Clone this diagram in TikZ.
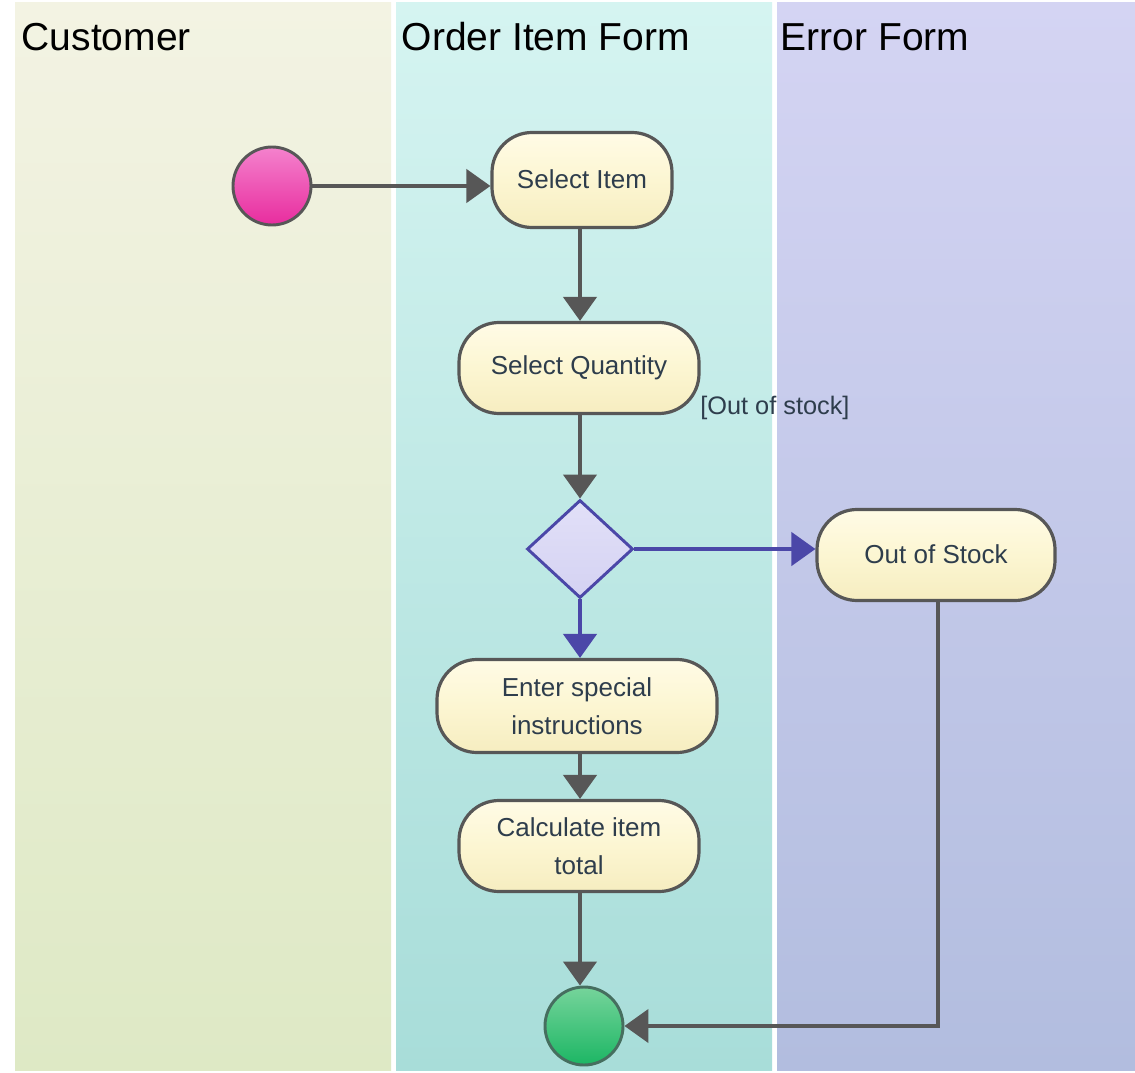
\documentclass[tikz,border=0pt]{standalone}
\usepackage{fontspec}
\setmainfont{Liberation Sans}
\usetikzlibrary{arrows.meta,shapes.geometric}
\definecolor{lineGray}{HTML}{575757}
\definecolor{flowBlue}{HTML}{4B47A8}
\definecolor{txt}{HTML}{2E3D4C}
\definecolor{boxTop}{HTML}{FFFBE6}
\definecolor{boxMid}{HTML}{FCF6D2}
\definecolor{boxBot}{HTML}{F6EDC0}
\begin{document}
\begin{tikzpicture}[x=0.75pt,y=-0.75pt,
  title/.style={anchor=base west,font=\fontsize{29.25}{32}\selectfont,text=black},
  action/.style={draw=lineGray,line width=2.4pt,rounded corners=30pt,
    top color=boxTop,bottom color=boxBot,middle color=boxMid,
    text=txt,font=\fontsize{19.5}{28.5}\selectfont,align=center,inner sep=0pt},
  flow/.style={draw=lineGray,line width=2.6pt,-{Triangle[length=18pt,width=25pt]}},
  bflow/.style={draw=flowBlue,line width=2.6pt,-{Triangle[length=18pt,width=25pt]}},
  guard/.style={text=txt,font=\fontsize{19}{22}\selectfont,inner sep=0pt}]
\useasboundingbox (0,0) rectangle (1135,1073);
\fill[white] (0,0) rectangle (1135,1073);

% swimlanes
\shade[top color={rgb,255:red,243;green,243;blue,227},bottom color={rgb,255:red,222;green,233;blue,197}]
  (15,3) rectangle (391,1070);
\shade[top color={rgb,255:red,213;green,244;blue,241},bottom color={rgb,255:red,168;green,221;blue,217}]
  (396,3) rectangle (772,1070);
\shade[top color={rgb,255:red,212;green,212;blue,243},bottom color={rgb,255:red,178;green,189;blue,223}]
  (777,3) rectangle (1135,1070);

\node[title] (tc) at (17,51) {Customer};
\node[title] (to) at (397,51) {Order Item Form};
\node[title] (te) at (776,51) {Error Form};

% start and end
\node[circle,draw=lineGray,line width=2.2pt,minimum size=58.5pt,inner sep=0pt,
  top color={rgb,255:red,244;green,130;blue,205},bottom color={rgb,255:red,232;green,44;blue,158}]
  (start) at (272,186) {};
\node[circle,draw={rgb,255:red,70;green,110;blue,95},line width=2.2pt,minimum size=58.5pt,inner sep=0pt,
  top color={rgb,255:red,118;green,212;blue,155},bottom color={rgb,255:red,28;green,182;blue,100}]
  (end) at (584,1026) {};

% actions
\node[action,minimum width=135pt,minimum height=71.25pt] (si) at (582,180) {\raisebox{2pt}{Select Item}};
\node[action,minimum width=180pt,minimum height=68.25pt] (sq) at (579,368) {\raisebox{2pt}{Select Quantity}};
\node[action,minimum width=178.5pt,minimum height=68.25pt] (oos) at (936,555) {\raisebox{2pt}{Out of Stock}};
\node[action,minimum width=210pt,minimum height=69.75pt] (esi) at (577,706) {Enter special\\instructions};
\node[action,minimum width=180pt,minimum height=68.25pt] (cit) at (579,846) {Calculate item\\total};

% decision
\node[diamond,draw=flowBlue,line width=2.2pt,inner sep=0pt,minimum width=79.5pt,minimum height=73.5pt,
  top color={rgb,255:red,226;green,224;blue,248},bottom color={rgb,255:red,212;green,210;blue,242}]
  (dec) at (580,549) {};

\node[guard,anchor=west] (lbl) at (700,408) {[Out of stock]};

% connectors
\draw[flow] (start) -- (start -| si.west);
\draw[flow] (si.south -| 580,0) -- (sq.north -| 580,0);
\draw[flow] (sq.south -| 580,0) -- (dec.north);
\draw[bflow] (dec.east) -- (dec.east -| oos.west);
\draw[bflow] (dec.south) -- (esi.north -| dec.south);
\draw[flow] (esi.south -| 580,0) -- (cit.north -| 580,0);
\draw[flow] (cit.south -| 580,0) -- (end.north -| 580,0);
\draw[flow] (oos.south -| 938,0) |- (end.east);
\end{tikzpicture}
\end{document}
